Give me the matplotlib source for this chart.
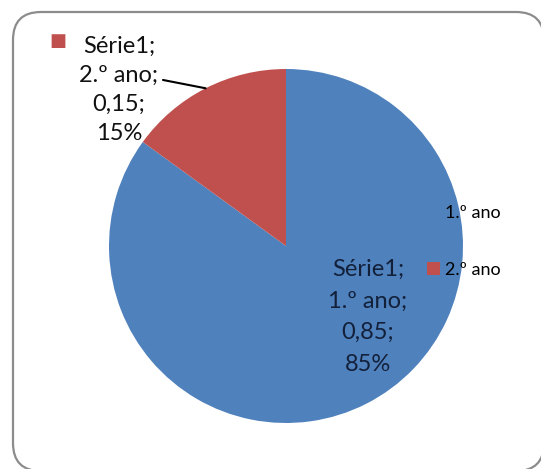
import matplotlib.pyplot as plt
import numpy as np
from matplotlib.patches import FancyBboxPatch
from matplotlib.transforms import IdentityTransform, Bbox

series = "Série1"
categories = ["1.º ano", "2.º ano"]
values = [0.85, 0.15]
colors = ["#4F81BD", "#C0504D"]

plt.rcParams['font.family'] = ['Lato', 'DejaVu Sans']

fig = plt.figure(figsize=(5.47, 4.75), dpi=100)

# chart area border (rounded, like the office chart frame; right/bottom edges fade out)
frame = FancyBboxPatch((13, 4), 531, 459, boxstyle="round,pad=0,rounding_size=28",
                       transform=IdentityTransform(), fill=False,
                       edgecolor="#8c8c8c", linewidth=1.6)
fig.patches.append(frame)
frame.set_clip_box(Bbox([[0, 6], [541, 475]]))

# pie centre at (286, 246) px, radius 177 px
W, H = 547, 475
cx, cy, r = 286, 246, 177
ax = fig.add_axes([(cx - r) / W, (H - cy - r) / H, 2 * r / W, 2 * r / H])
wedges, _ = ax.pie(values, colors=colors, startangle=90, counterclock=False,
                   radius=1, wedgeprops=dict(linewidth=0))
ax.set_xlim(-1, 1)
ax.set_ylim(-1, 1)
ax.set_aspect('equal')
ax.axis('off')

def label_text(cat, v):
    return "%s;\n%s;\n%s;\n%d%%" % (series, cat, ("%.2f" % v).replace('.', ','), round(v * 100))

# 1.º ano label inside the slice
ax.text(0.463, -0.40, label_text(categories[0], values[0]), ha='center', va='center',
        fontsize=17, linespacing=1.62, color='#13203a')

# 2.º ano label outside, with leader line
ax.text(-0.944, 0.88, label_text(categories[1], values[1]), ha='center', va='center',
        fontsize=17, linespacing=1.47, color='#111111')
ax.text(-1.29, 1.16, "■", ha='center', va='center', fontsize=13,
        color=colors[1], family='DejaVu Sans')
mid = np.deg2rad(90 + values[1] * 360 / 2)
ax.annotate('', xy=(np.cos(mid), np.sin(mid)), xytext=(-0.695, 0.938),
            arrowprops=dict(arrowstyle='-', color='black', lw=1.5,
                            shrinkA=0, shrinkB=0))

leg = ax.legend(wedges, categories, loc='center left', bbox_to_anchor=(0.853, 0.512),
                frameon=False, fontsize=13, handlelength=0.7, handleheight=0.7,
                handletextpad=0.3, labelspacing=2.25)
for t in leg.get_texts():
    t.set_color('black')

fig.savefig("out.png", dpi=100)
